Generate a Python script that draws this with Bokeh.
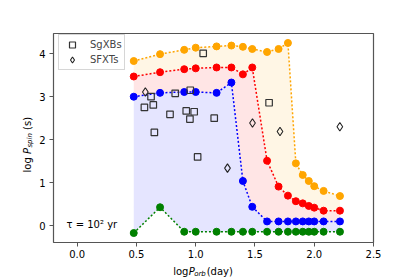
import math
from bokeh.plotting import figure
from bokeh.models import (Range1d, FixedTicker, PrintfTickFormatter, Label,
                          Legend, LegendItem)
from bokeh.layouts import row, column
from bokeh.core.properties import value
from bokeh.embed import file_html
from bokeh.resources import INLINE

# ---------------- data ----------------
log_porb = [0.477, 0.699, 0.903, 1.0, 1.176, 1.301, 1.398, 1.477, 1.602,
            1.699, 1.778, 1.845, 1.903, 1.954, 2.0, 2.079, 2.217]
green_y = [-0.17, 0.43, -0.14, -0.14, -0.14, -0.14, -0.14, -0.14, -0.14,
           -0.14, -0.14, -0.14, -0.14, -0.14, -0.14, -0.14, -0.14]
blue_y = [3.00, 3.09, 3.11, 3.11, 3.09, 3.33, 1.04, 0.44, 0.10,
          0.10, 0.10, 0.10, 0.10, 0.10, 0.10, 0.10, 0.10]
red_y = [3.47, 3.57, 3.64, 3.66, 3.68, 3.68, 3.52, 3.68, 1.51,
         0.91, 0.70, 0.57, 0.52, 0.46, 0.42, 0.35, 0.35]
orange_y = [3.83, 3.99, 4.09, 4.14, 4.17, 4.19, 4.16, 4.11, 4.04,
            4.11, 4.25, 1.45, 1.18, 1.04, 0.92, 0.81, 0.69]

sgxb_x = [1.063, 0.623, 0.567, 0.642, 0.827, 0.954, 0.783, 0.920, 0.987,
          0.951, 1.156, 0.651, 1.016, 1.619]
sgxb_y = [4.01, 3.00, 2.75, 2.81, 3.08, 3.15, 2.59, 2.67, 2.65,
          2.48, 2.50, 2.17, 1.60, 2.86]
sfxt_x = [0.575, 1.479, 1.711, 2.216, 1.268]
sfxt_y = [3.11, 2.39, 2.19, 2.30, 1.34]

x_ticks = [0.0, 0.5, 1.0, 1.5, 2.0, 2.5]
y_ticks = [0, 1, 2, 3, 4]
legend_labels = ["SgXBs", "SFXTs"]
tau_text = "τ = 10² yr"
xlabel_parts = ["log", "P", "orb", "(day)"]
ylabel_parts = ["log", "P", "spin", "(s)"]

FONT = "DejaVu Sans"
YLAB_W = 36
MAIN_W, MAIN_H = 379, 261
XLAB_H = 16

p = figure(width=MAIN_W, height=MAIN_H, title=None,
           x_range=Range1d(-0.2, 2.5), y_range=Range1d(-0.39, 4.47),
           output_backend="svg", toolbar_location=None,
           min_border_left=16, min_border_right=42,
           min_border_top=33, min_border_bottom=19)
p.xgrid.visible = False
p.ygrid.visible = False
p.background_fill_color = "white"
p.border_fill_color = "white"
p.outline_line_color = "#555555"
p.outline_line_width = 1.2

for ax in (p.xaxis[0], p.yaxis[0]):
    ax.axis_line_color = None
    ax.major_tick_line_color = "#555555"
    ax.major_tick_out = 4
    ax.major_tick_in = 0
    ax.minor_tick_line_color = None
    ax.major_label_text_font = FONT
    ax.major_label_text_font_size = "10px"
    ax.major_label_text_color = "black"
    ax.major_label_text_line_height = 0.9
p.xaxis[0].ticker = FixedTicker(ticks=x_ticks)
p.xaxis[0].formatter = PrintfTickFormatter(format="%.1f")
p.xaxis[0].major_label_standoff = 3
p.yaxis[0].ticker = FixedTicker(ticks=y_ticks)
p.yaxis[0].formatter = PrintfTickFormatter(format="%d")
p.yaxis[0].major_label_standoff = 4

# shaded bands
p.varea(x=log_porb, y1=green_y, y2=blue_y, fill_color="blue", fill_alpha=0.1)
p.varea(x=log_porb, y1=blue_y, y2=red_y, fill_color="red", fill_alpha=0.1)
p.varea(x=log_porb, y1=red_y, y2=orange_y, fill_color="orange", fill_alpha=0.1)

for ys, c in ((green_y, "green"), (blue_y, "blue"), (red_y, "red"), (orange_y, "orange")):
    p.line(log_porb, ys, line_color=c, line_width=1.5, line_dash="2 2")
    p.scatter(log_porb, ys, size=7, fill_color=c, line_color=c)

r_sg = p.scatter(sgxb_x, sgxb_y, marker="square", size=6.5, fill_color=None,
                 line_color="#333333", line_width=1.2)
r_sf = p.scatter(sfxt_x, sfxt_y, marker="diamond", size=8.5, fill_color=None,
                 line_color="#222222", line_width=1.1)

legend = Legend(items=[LegendItem(label=legend_labels[0], renderers=[r_sg]),
                       LegendItem(label=legend_labels[1], renderers=[r_sf])],
                location=(5, 172), padding=2, spacing=-1,
                glyph_height=15, glyph_width=22, label_height=12,
                label_standoff=7, label_text_font=FONT,
                label_text_font_size="10px",
                border_line_color="#cccccc", border_line_alpha=0.8,
                background_fill_color="white", background_fill_alpha=0.8,
                margin=0)
p.add_layout(legend)

p.add_layout(Label(x=13, y=18, x_units="screen", y_units="screen", text=tau_text,
                   text_font=FONT, text_font_size="10px", text_color="black",
                   text_align="left", text_baseline="alphabetic"))


def blank_fig(w, h):
    f = figure(width=w, height=h, title=None,
               x_range=Range1d(0, w), y_range=Range1d(0, h),
               output_backend="svg", toolbar_location=None,
               x_axis_type=None, y_axis_type=None,
               min_border=0, min_border_left=0, min_border_right=0,
               min_border_top=0, min_border_bottom=0)
    f.outline_line_color = None
    f.background_fill_color = "white"
    f.border_fill_color = "white"
    return f


def put(f, x, y, text, size="10px", italic=False, angle=0.0):
    f.text(x=[x], y=[y], text=[text], text_font=value(FONT),
           text_font_size=value(size),
           text_font_style=value("italic" if italic else "normal"),
           text_color="black", text_align=value("left"),
           text_baseline=value("alphabetic"), angle=angle)


# x axis label strip (below the main plot)
fx = blank_fig(MAIN_W, XLAB_H)
x0, yb = 141.7, 6.0
put(fx, x0, yb, xlabel_parts[0])
put(fx, x0 + 18.4, yb, xlabel_parts[1], italic=True)
put(fx, x0 + 24.9, yb - 2.2, xlabel_parts[2], size="7px", italic=True)
put(fx, x0 + 36.5 + 3.2, yb, xlabel_parts[3])

# y axis label strip (left of the main plot)
TOT_H = MAIN_H + XLAB_H
fy = blank_fig(YLAB_W, TOT_H)
xb, y0 = 27, 105
a = math.pi / 2
put(fy, xb, y0, ylabel_parts[0], angle=a)
put(fy, xb, y0 + 18.4, ylabel_parts[1], italic=True, angle=a)
put(fy, xb + 2.2, y0 + 24.9, ylabel_parts[2], size="7px", italic=True, angle=a)
put(fy, xb, y0 + 39.4 + 3.2, ylabel_parts[3], angle=a)

layout = row(fy, column(p, fx, spacing=0), spacing=0)

open("out.html", "w").write(file_html(layout, INLINE))
